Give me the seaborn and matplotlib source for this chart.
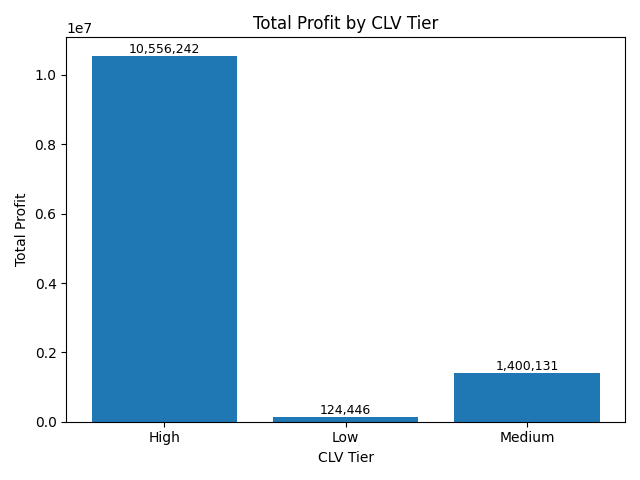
import matplotlib
matplotlib.use("Agg")
import matplotlib.pyplot as plt
import seaborn as sns
import pandas as pd

tiers = ["High", "Low", "Medium"]
profits = [10556242, 124446, 1400131]

df = pd.DataFrame({"CLV Tier": tiers, "Total Profit": profits})

fig, ax = plt.subplots(figsize=(6.4, 4.8), dpi=100)
sns.barplot(data=df, x="CLV Tier", y="Total Profit", color="#1f77b4",
            saturation=1, width=0.8, ax=ax)
ax.set_xlim(-0.54, 2.54)
for c in ax.containers:
    ax.bar_label(c, labels=[f"{v:,.0f}" for v in profits], fontsize=9)
ax.set_title("Total Profit by CLV Tier")
ax.set_xlabel("CLV Tier")
ax.set_ylabel("Total Profit")
plt.tight_layout()
plt.savefig("out.png")
